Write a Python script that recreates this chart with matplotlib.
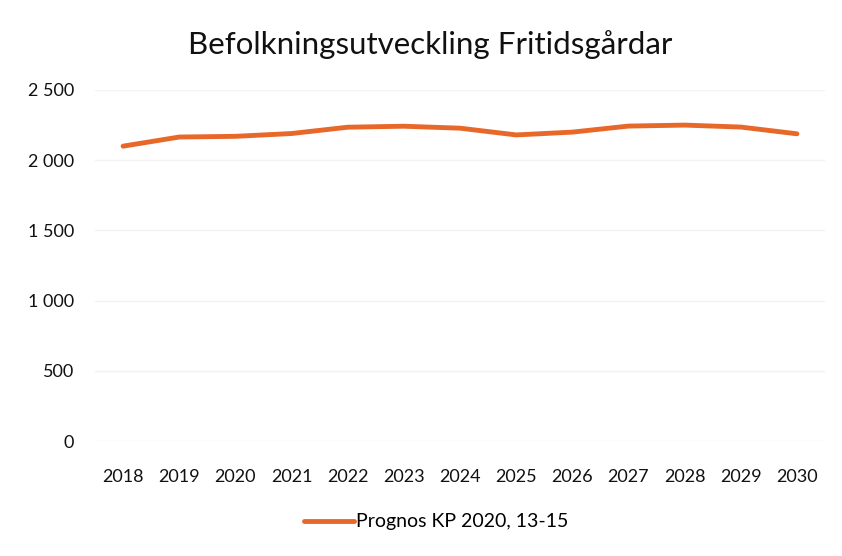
import matplotlib.pyplot as plt
from matplotlib.ticker import FuncFormatter

ar = ['2018', '2019', '2020', '2021', '2022', '2023', '2024',
      '2025', '2026', '2027', '2028', '2029', '2030']
prognos = [2100, 2165, 2170, 2190, 2235, 2242, 2228,
           2180, 2200, 2243, 2250, 2236, 2188]
yticks = [0, 500, 1000, 1500, 2000, 2500]

plt.rcParams['font.family'] = ['Lato', 'DejaVu Sans']

fig = plt.figure(figsize=(8.42, 5.56), dpi=100)
ax = fig.add_axes([95 / 842, 115 / 556, 730 / 842, 351 / 556])

x = list(range(len(ar)))
ax.plot(x, prognos, color='#E8682A', linewidth=3.5, solid_capstyle='round',
        label='Prognos KP 2020, 13-15')

ax.set_xlim(-0.5, len(ar) - 0.5)
ax.set_ylim(0, 2500)
ax.set_yticks(yticks)
ax.yaxis.set_major_formatter(FuncFormatter(lambda v, p: f'{int(v):,}'.replace(',', ' ')))
ax.set_xticks(x)
ax.set_xticklabels(ar)
ax.tick_params(axis='both', length=0, labelsize=13, colors='#111111')
ax.tick_params(axis='y', pad=15)
ax.tick_params(axis='x', pad=20)
ax.grid(axis='y', color='#f2f2f2', linewidth=1)
ax.set_axisbelow(True)
for s in ax.spines.values():
    s.set_visible(False)

fig.text(430 / 842, 1 - 45 / 556, 'Befolkningsutveckling Fritidsgårdar',
         ha='center', va='center', fontsize=22.5, color='#111111')

fig.legend(loc='center', bbox_to_anchor=(436 / 842, 1 - 522 / 556), frameon=False,
           fontsize=14, handlelength=2.6, handletextpad=0.1)

fig.savefig('out.png', dpi=100, facecolor='white')
